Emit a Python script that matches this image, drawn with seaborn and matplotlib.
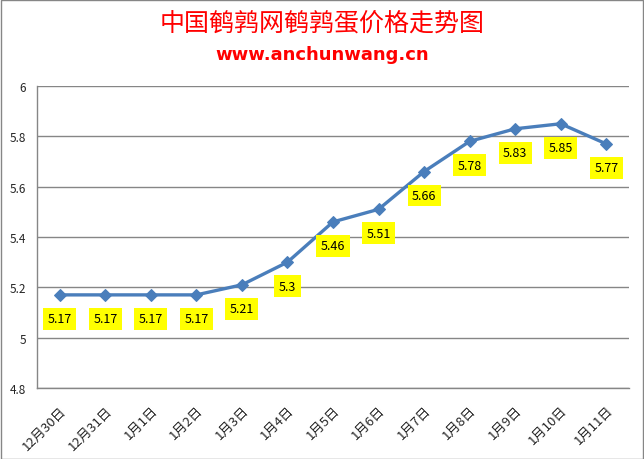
import numpy as np
import pandas as pd
import matplotlib
matplotlib.use("Agg")
import matplotlib.pyplot as plt
import seaborn as sns

#**************************************#
            # data
#**************************************#
dates = ["12月30日", "12月31日", "1月1日", "1月2日", "1月3日", "1月4日", "1月5日",
         "1月6日", "1月7日", "1月8日", "1月9日", "1月10日", "1月11日"]
prices = [5.17, 5.17, 5.17, 5.17, 5.21, 5.3, 5.46, 5.51, 5.66, 5.78, 5.83, 5.85, 5.77]
price_labels = ["5.17", "5.17", "5.17", "5.17", "5.21", "5.3", "5.46", "5.51",
                "5.66", "5.78", "5.83", "5.85", "5.77"]
y_ticks = [4.8, 5, 5.2, 5.4, 5.6, 5.8, 6]
y_tick_labels = ["4.8", "5", "5.2", "5.4", "5.6", "5.8", "6"]

title = "中国鹌鹑网鹌鹑蛋价格走势图"
subtitle = "www.anchunwang.cn"

sns.set_style("white")
plt.rcParams['font.family'] = ['Noto Sans CJK SC', 'DejaVu Sans']

df = pd.DataFrame({'pos': np.arange(len(dates)), 'price': prices})

fig = plt.figure(figsize=(6.44, 4.6), dpi=100)
ax = fig.add_axes([37/644, 71/460, 592/644, 302/460])

sns.lineplot(data=df, x='pos', y='price', ax=ax, color='#4a7ebb', linewidth=2.4,
             marker='D', markersize=6.5, markeredgecolor='#4a7ebb', sort=False)

# data labels (yellow boxes under the points)
for xp, yp, lab in zip(df['pos'], df['price'], price_labels):
    ax.annotate(lab, (xp, yp), xytext=(0, -24), textcoords='offset pixels',
                ha='center', va='center', fontsize=9, color='black',
                bbox=dict(boxstyle='square,pad=0.35', fc='#ffff00', ec='none'))

ax.set_xlim(-0.5, len(dates) - 0.5)
ax.set_ylim(4.8, 6)
ax.set_yticks(y_ticks)
ax.set_yticklabels(y_tick_labels, fontsize=8.5)
ax.set_xticks(df['pos'])
ax.set_xticklabels(dates, rotation=45, ha='right', rotation_mode='anchor', fontsize=9.5)
ax.tick_params(axis='both', length=0, pad=8)
ax.tick_params(axis='x', pad=11)
ax.set_xlabel('')
ax.set_ylabel('')

ax.grid(axis='y', color='#868686', linewidth=1)
ax.set_axisbelow(True)
for s in ['top', 'right']:
    ax.spines[s].set_visible(False)
for s in ['left', 'bottom']:
    ax.spines[s].set_color('#868686')
    ax.spines[s].set_linewidth(1)

fig.text(0.5, 1 - 24/460, title, ha='center', va='center', color='#ff0000', fontsize=18)
fig.text(0.5, 1 - 55/460, subtitle, ha='center', va='center', color='#ff0000',
         fontsize=13, fontweight='bold', family='DejaVu Sans')

# outer border
fig.patches.append(plt.Rectangle((0.5/644, 0.5/460), 1 - 1.5/644, 1 - 1.5/460, transform=fig.transFigure,
                                 fill=False, ec='#868686', lw=1))

plt.savefig("out.png", dpi=100)
plt.close()
